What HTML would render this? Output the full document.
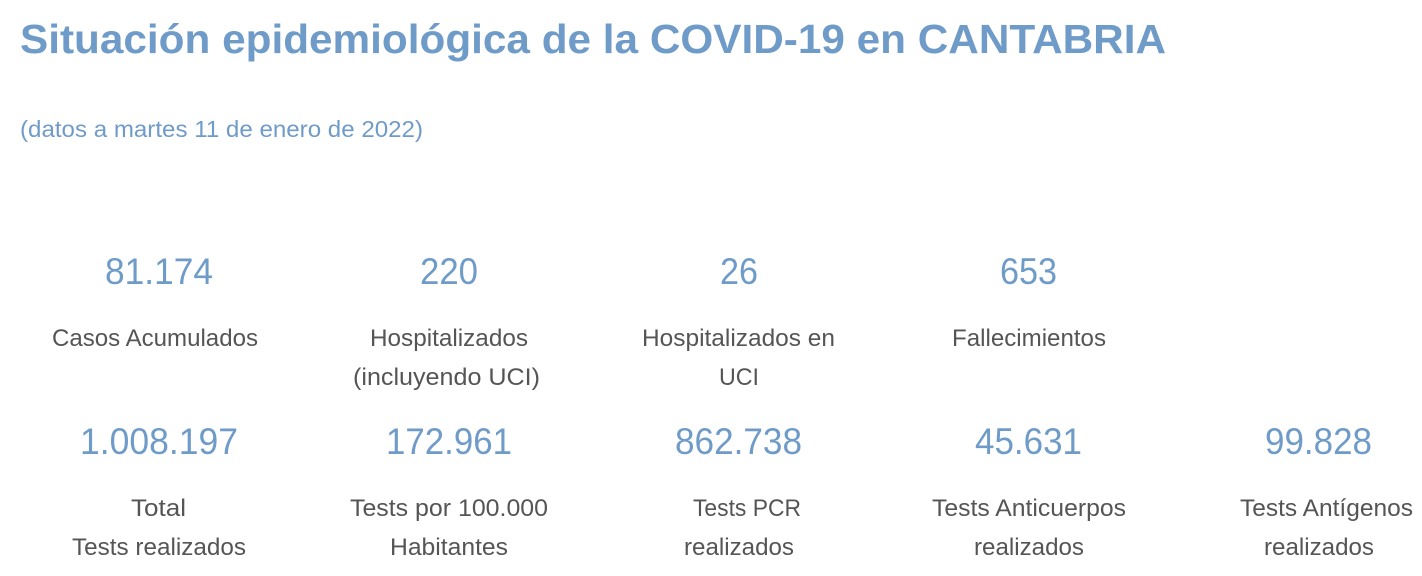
<!DOCTYPE html>
<html><head><meta charset="utf-8"><style>
html,body{margin:0;padding:0;background:#fff;width:1422px;height:576px;overflow:hidden}
svg text{font-family:"Liberation Sans",Arial,sans-serif}
.n{fill:#6f9bc9;font-size:37px}
.l{fill:#555;font-size:24px}
</style></head><body>
<svg width="1422" height="576" xmlns="http://www.w3.org/2000/svg">
<text x="20" y="53" fill="#6f9bc9" font-size="41" font-weight="bold" textLength="1146" lengthAdjust="spacingAndGlyphs">Situación epidemiológica de la COVID-19 en CANTABRIA</text>
<text x="20" y="137" fill="#6f9bc9" font-size="23" textLength="403" lengthAdjust="spacingAndGlyphs">(datos a martes 11 de enero de 2022)</text>

<g class="n">
<text x="105" y="284" textLength="108" lengthAdjust="spacingAndGlyphs">81.174</text>
<text x="420" y="284" textLength="58" lengthAdjust="spacingAndGlyphs">220</text>
<text x="720" y="284" textLength="38" lengthAdjust="spacingAndGlyphs">26</text>
<text x="1000" y="284" textLength="57" lengthAdjust="spacingAndGlyphs">653</text>
<text x="80" y="454" textLength="158" lengthAdjust="spacingAndGlyphs">1.008.197</text>
<text x="386" y="454" textLength="126" lengthAdjust="spacingAndGlyphs">172.961</text>
<text x="675" y="454" textLength="127" lengthAdjust="spacingAndGlyphs">862.738</text>
<text x="975" y="454" textLength="107" lengthAdjust="spacingAndGlyphs">45.631</text>
<text x="1265" y="454" textLength="107" lengthAdjust="spacingAndGlyphs">99.828</text>
</g>
<g class="l">
<text x="52" y="346" textLength="206" lengthAdjust="spacingAndGlyphs">Casos Acumulados</text>
<text x="370" y="346" textLength="158" lengthAdjust="spacingAndGlyphs">Hospitalizados</text>
<text x="353" y="385" textLength="187" lengthAdjust="spacingAndGlyphs">(incluyendo UCI)</text>
<text x="642" y="346" textLength="193" lengthAdjust="spacingAndGlyphs">Hospitalizados en</text>
<text x="719" y="385" textLength="40" lengthAdjust="spacingAndGlyphs">UCI</text>
<text x="952" y="346" textLength="154" lengthAdjust="spacingAndGlyphs">Fallecimientos</text>
<text x="131" y="516" textLength="55" lengthAdjust="spacingAndGlyphs">Total</text>
<text x="72" y="555" textLength="174" lengthAdjust="spacingAndGlyphs">Tests realizados</text>
<text x="350" y="516" textLength="198" lengthAdjust="spacingAndGlyphs">Tests por 100.000</text>
<text x="390" y="555" textLength="118" lengthAdjust="spacingAndGlyphs">Habitantes</text>
<text x="693" y="516" textLength="108" lengthAdjust="spacingAndGlyphs">Tests PCR</text>
<text x="684" y="555" textLength="110" lengthAdjust="spacingAndGlyphs">realizados</text>
<text x="932" y="516" textLength="194" lengthAdjust="spacingAndGlyphs">Tests Anticuerpos</text>
<text x="974" y="555" textLength="110" lengthAdjust="spacingAndGlyphs">realizados</text>
<text x="1240" y="516" textLength="173" lengthAdjust="spacingAndGlyphs">Tests Antígenos</text>
<text x="1264" y="555" textLength="110" lengthAdjust="spacingAndGlyphs">realizados</text>
</g>
</svg>
</body></html>
